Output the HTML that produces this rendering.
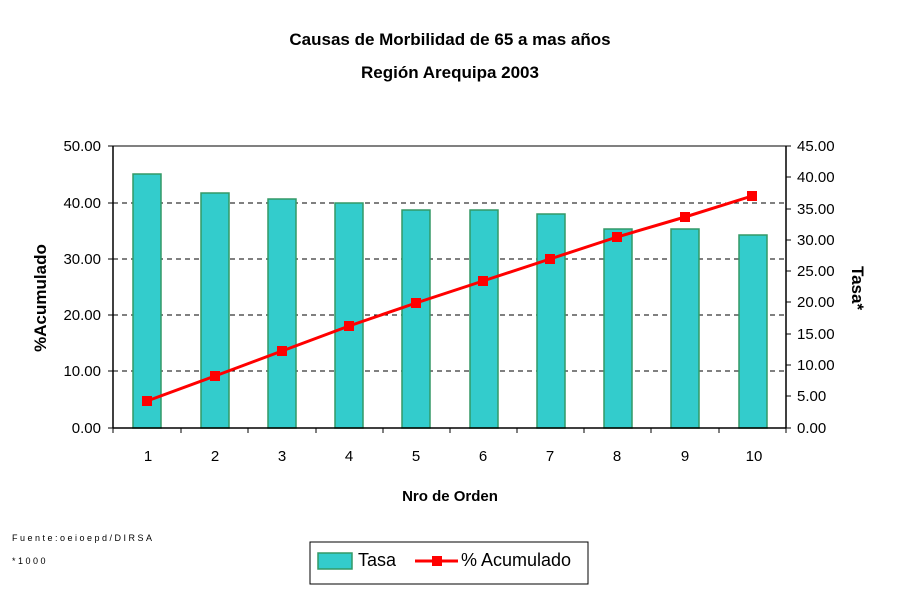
<!DOCTYPE html>
<html><head><style>body{margin:0;background:#fff}</style></head><body>
<svg width="900" height="600" xmlns="http://www.w3.org/2000/svg" font-family="Liberation Sans, Arial, sans-serif">
<rect width="900" height="600" fill="#fff"/>
<text x="450" y="45" text-anchor="middle" font-size="17" font-weight="bold">Causas de Morbilidad de 65 a mas años</text>
<text x="450" y="78" text-anchor="middle" font-size="17" font-weight="bold">Región Arequipa 2003</text>
<line x1="113" y1="146" x2="786" y2="146" stroke="#808080" stroke-width="2"/>
<g stroke="#000" stroke-dasharray="5,4" stroke-width="1" shape-rendering="crispEdges">
<line x1="113" y1="203" x2="786" y2="203"/><line x1="113" y1="259" x2="786" y2="259"/>
<line x1="113" y1="315" x2="786" y2="315"/><line x1="113" y1="371" x2="786" y2="371"/>
</g>
<g fill="#33CCCC" stroke="#339966" stroke-width="1.5">
<rect x="133" y="174" width="28" height="254"/>
<rect x="201" y="193" width="28" height="235"/>
<rect x="268" y="199" width="28" height="229"/>
<rect x="335" y="203" width="28" height="225"/>
<rect x="402" y="210" width="28" height="218"/>
<rect x="470" y="210" width="28" height="218"/>
<rect x="537" y="214" width="28" height="214"/>
<rect x="604" y="229" width="28" height="199"/>
<rect x="671" y="229" width="28" height="199"/>
<rect x="739" y="235" width="28" height="193"/>
</g>
<g stroke="#000" stroke-width="1.5">
<line x1="113" y1="146" x2="113" y2="428"/><line x1="786" y1="146" x2="786" y2="428"/>
<line x1="113" y1="428" x2="786" y2="428"/>
</g>
<g stroke="#000" stroke-width="1">
<line x1="108" y1="146" x2="113" y2="146"/><line x1="108" y1="203" x2="113" y2="203"/><line x1="108" y1="259" x2="113" y2="259"/><line x1="108" y1="315" x2="113" y2="315"/><line x1="108" y1="371" x2="113" y2="371"/><line x1="108" y1="428" x2="113" y2="428"/>
<line x1="786" y1="146" x2="791" y2="146"/><line x1="786" y1="177" x2="791" y2="177"/><line x1="786" y1="209" x2="791" y2="209"/><line x1="786" y1="240" x2="791" y2="240"/><line x1="786" y1="271" x2="791" y2="271"/><line x1="786" y1="302" x2="791" y2="302"/><line x1="786" y1="334" x2="791" y2="334"/><line x1="786" y1="365" x2="791" y2="365"/><line x1="786" y1="396" x2="791" y2="396"/><line x1="786" y1="428" x2="791" y2="428"/>
<line x1="113" y1="428" x2="113" y2="433"/><line x1="181" y1="428" x2="181" y2="433"/><line x1="248" y1="428" x2="248" y2="433"/><line x1="316" y1="428" x2="316" y2="433"/><line x1="383" y1="428" x2="383" y2="433"/><line x1="450" y1="428" x2="450" y2="433"/><line x1="517" y1="428" x2="517" y2="433"/><line x1="584" y1="428" x2="584" y2="433"/><line x1="651" y1="428" x2="651" y2="433"/><line x1="719" y1="428" x2="719" y2="433"/><line x1="786" y1="428" x2="786" y2="433"/>
</g>
<polyline fill="none" stroke="#FF0000" stroke-width="3" points="147,401 215,376 282,351 349,326 416,303 483,281 550,259 617,237 685,217 752,196"/>
<g fill="#FF0000">
<rect x="142" y="396" width="10" height="10"/><rect x="210" y="371" width="10" height="10"/><rect x="277" y="346" width="10" height="10"/><rect x="344" y="321" width="10" height="10"/><rect x="411" y="298" width="10" height="10"/><rect x="478" y="276" width="10" height="10"/><rect x="545" y="254" width="10" height="10"/><rect x="612" y="232" width="10" height="10"/><rect x="680" y="212" width="10" height="10"/><rect x="747" y="191" width="10" height="10"/>
</g>
<g font-size="15" text-anchor="end">
<text x="101" y="151">50.00</text><text x="101" y="208">40.00</text><text x="101" y="264">30.00</text><text x="101" y="320">20.00</text><text x="101" y="376">10.00</text><text x="101" y="433">0.00</text>
</g>
<g font-size="15" text-anchor="start">
<text x="797" y="151">45.00</text><text x="797" y="182">40.00</text><text x="797" y="214">35.00</text><text x="797" y="245">30.00</text><text x="797" y="276">25.00</text><text x="797" y="307">20.00</text><text x="797" y="339">15.00</text><text x="797" y="370">10.00</text><text x="797" y="401">5.00</text><text x="797" y="433">0.00</text>
</g>
<g font-size="15" text-anchor="middle">
<text x="148" y="461">1</text><text x="215" y="461">2</text><text x="282" y="461">3</text><text x="349" y="461">4</text><text x="416" y="461">5</text><text x="483" y="461">6</text><text x="550" y="461">7</text><text x="617" y="461">8</text><text x="685" y="461">9</text><text x="754" y="461">10</text>
</g>
<text x="450" y="501" text-anchor="middle" font-size="15" font-weight="bold">Nro de Orden</text>
<text transform="translate(46,298) rotate(-90)" text-anchor="middle" font-size="17" font-weight="bold">%Acumulado</text>
<text transform="translate(852,288) rotate(90)" text-anchor="middle" font-size="17" font-weight="bold">Tasa*</text>
<text x="12" y="541" font-size="9" letter-spacing="2.5">Fuente:oeioepd/DIRSA</text>
<text x="12" y="564" font-size="9" letter-spacing="2.5">*1000</text>
<rect x="310" y="542" width="278" height="42" fill="#fff" stroke="#000" stroke-width="1"/>
<rect x="318" y="553" width="34" height="16" fill="#33CCCC" stroke="#339966" stroke-width="1.5"/>
<text x="358" y="566" font-size="18">Tasa</text>
<line x1="415" y1="561" x2="458" y2="561" stroke="#FF0000" stroke-width="3"/>
<rect x="432" y="556" width="10" height="10" fill="#FF0000"/>
<text x="461" y="566" font-size="18">% Acumulado</text>
</svg>
</body></html>
